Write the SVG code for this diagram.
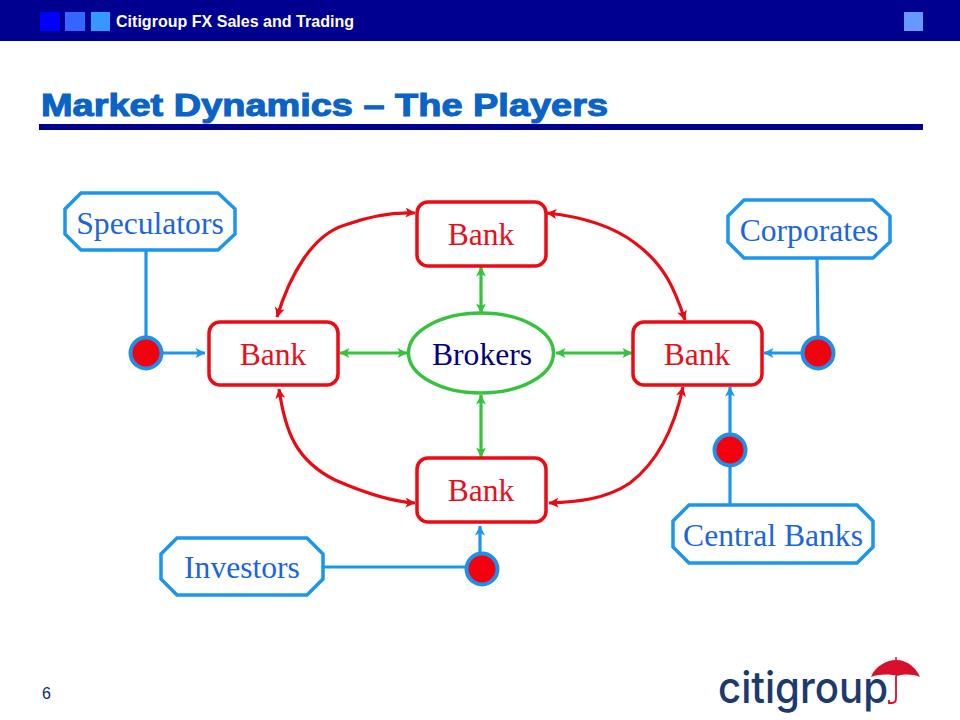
<svg xmlns="http://www.w3.org/2000/svg" width="960" height="720" viewBox="0 0 960 720">
<style>
.serif{font-family:"Liberation Serif","Times New Roman",serif;font-size:31.6px;text-anchor:middle}
.sans{font-family:"Liberation Sans",Arial,sans-serif}
.bank{fill:#fff;stroke:#ee0a12;stroke-width:3.5}
.bt{fill:#e8101a}
.oct{fill:#fff;stroke:#1a96ee;stroke-width:3.5}
.ot{fill:#1a66e0}
.dot{fill:#f5000f;stroke:#1f90e8;stroke-width:4}
.r{fill:none;stroke:#ea0a12;stroke-width:3.2}
.g{fill:none;stroke:#35c23c;stroke-width:3.2}
.b{fill:none;stroke:#1a96ee;stroke-width:3.2}
</style>
<defs>
<marker id="ar" viewBox="0 0 10 10" refX="9.5" refY="5" markerWidth="11" markerHeight="10" markerUnits="userSpaceOnUse" orient="auto-start-reverse"><path d="M0 0L10 5L0 10L2.5 5Z" fill="#ea0a12"/></marker>
<marker id="ag" viewBox="0 0 10 10" refX="9.5" refY="5" markerWidth="11" markerHeight="10" markerUnits="userSpaceOnUse" orient="auto-start-reverse"><path d="M0 0L10 5L0 10L2.5 5Z" fill="#35c23c"/></marker>
<marker id="ab" viewBox="0 0 10 10" refX="9.5" refY="5" markerWidth="11" markerHeight="10" markerUnits="userSpaceOnUse" orient="auto-start-reverse"><path d="M0 0L10 5L0 10L2.5 5Z" fill="#1a96ee"/></marker>
</defs>
<rect width="960" height="720" fill="#fff"/>
<g id="header">
<rect width="960" height="41" fill="#000090"/>
<rect x="40" y="12" width="20" height="19" fill="#0000ff"/>
<rect x="65" y="12" width="20" height="19" fill="#3366ff"/>
<rect x="91" y="12" width="19" height="19" fill="#3399ff"/>
<rect x="904" y="12" width="19" height="19" fill="#6699ff"/>
<text class="sans" x="116" y="27" font-size="16" font-weight="700" fill="#fff" textLength="238">Citigroup FX Sales and Trading</text>
</g>
<g id="title">
<text class="sans" x="41" y="116" font-size="32" font-weight="700" fill="#0a63c6" stroke="#0a63c6" stroke-width="1.100" textLength="567" lengthAdjust="spacingAndGlyphs">Market Dynamics – The Players</text>
<rect x="39" y="124" width="884" height="6" fill="#000090"/>
</g>
<g id="connectors">
<path class="r" marker-start="url(#ar)" marker-end="url(#ar)" d="M277 317C290 275 312 235 345 225C370 216 395 212 415 213"/>
<path class="r" marker-start="url(#ar)" marker-end="url(#ar)" d="M547 213C575 216 610 224 635 243C665 265 675 290 685 320"/>
<path class="r" marker-start="url(#ar)" marker-end="url(#ar)" d="M279 389C285 430 295 460 335 480C365 493 395 502 415 503"/>
<path class="r" marker-start="url(#ar)" marker-end="url(#ar)" d="M549 503C575 502 605 500 630 483C660 460 675 425 683 387"/>
<path class="g" marker-start="url(#ag)" marker-end="url(#ag)" d="M481 267V313"/>
<path class="g" marker-start="url(#ag)" marker-end="url(#ag)" d="M481 395V457"/>
<path class="g" marker-start="url(#ag)" marker-end="url(#ag)" d="M340 353H407"/>
<path class="g" marker-start="url(#ag)" marker-end="url(#ag)" d="M556 353H632"/>
<path class="b" d="M146 250V338"/>
<path class="b" marker-end="url(#ab)" d="M162 353H205"/>
<path class="b" d="M817 258L818 338"/>
<path class="b" marker-end="url(#ab)" d="M802 353H764"/>
<path class="b" d="M730 505V466"/>
<path class="b" marker-end="url(#ab)" d="M730 434V387"/>
<path class="b" d="M323 567H466"/>
<path class="b" marker-end="url(#ab)" d="M480 554V526"/>
</g>
<g id="bank-top"><rect class="bank" x="417" y="202" width="129" height="64" rx="11"/><text class="serif bt" x="481" y="245">Bank</text></g>
<g id="bank-left"><rect class="bank" x="209" y="322" width="129" height="63" rx="11"/><text class="serif bt" x="273" y="365">Bank</text></g>
<g id="bank-right"><rect class="bank" x="633" y="322" width="129" height="63" rx="11"/><text class="serif bt" x="697" y="365">Bank</text></g>
<g id="bank-bottom"><rect class="bank" x="417" y="458" width="129" height="64" rx="11"/><text class="serif bt" x="481" y="501">Bank</text></g>
<g id="brokers"><ellipse cx="481" cy="353" rx="72.500" ry="40" fill="#fff" stroke="#35c23c" stroke-width="3.500"/><text class="serif" x="482" y="365" fill="#000080">Brokers</text></g>
<g id="speculators"><path class="oct" d="M81 193H218L235 209V234L218 250H81L65 234V209Z"/><text class="serif ot" x="150" y="234">Speculators</text></g>
<g id="corporates"><path class="oct" d="M744 200H873L890 216V242L873 258H744L728 242V216Z"/><text class="serif ot" x="809" y="241">Corporates</text></g>
<g id="central-banks"><path class="oct" d="M689 505H857L873 521V547L857 563H689L673 547V521Z"/><text class="serif ot" x="773" y="546">Central Banks</text></g>
<g id="investors"><path class="oct" d="M177 538H307L323 554V579L307 595H177L161 579V554Z"/><text class="serif ot" x="242" y="578">Investors</text></g>
<g id="dot-speculators"><circle class="dot" cx="146" cy="353" r="15.500"/></g>
<g id="dot-corporates"><circle class="dot" cx="818" cy="353" r="15.500"/></g>
<g id="dot-central"><circle class="dot" cx="730" cy="450" r="15.500"/></g>
<g id="dot-investors"><circle class="dot" cx="482" cy="569" r="15.500"/></g>
<g id="page"><text class="sans" x="42" y="699" font-size="16" fill="#0a2a6a">6</text></g>
<g id="logo">
<text x="718" y="703" font-family="Inter,'Open Sans',sans-serif" font-size="44" font-weight="500" fill="#1c3a70" textLength="170" lengthAdjust="spacingAndGlyphs">citigroup</text>
<path d="M871 677C875 666 887 660 896 660C908 660 916 668 920 677C912 674 905 674 897 676C888 674 880 674 871 677Z" fill="#d80f2c"/>
<path d="M896 657V661" stroke="#d80f2c" stroke-width="1.500"/>
<path d="M896 676V698Q896 703 892 703H889V700" fill="none" stroke="#d80f2c" stroke-width="1.800"/>
</g>
</svg>
